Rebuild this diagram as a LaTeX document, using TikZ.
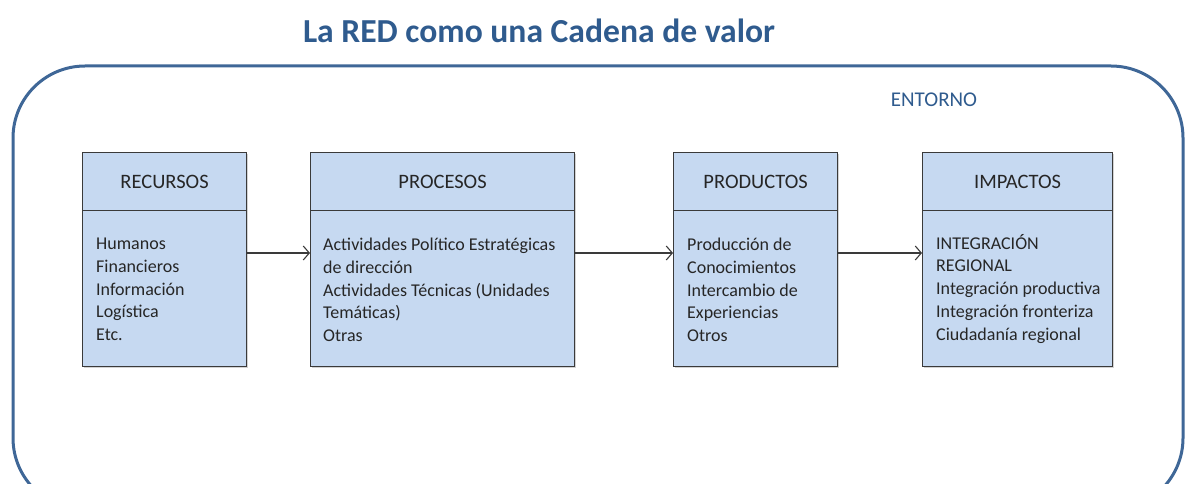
\documentclass[tikz,border=0pt]{standalone}
\usepackage{fontspec}
\setmainfont{Carlito}
\usetikzlibrary{arrows.meta,calc,shadows}
\definecolor{boxfill}{HTML}{C6D9F1}
\definecolor{boxline}{HTML}{3A3A3A}
\definecolor{titleblue}{HTML}{2F5B8E}
\definecolor{frameblue}{HTML}{3F6797}
\definecolor{txt}{HTML}{262626}
\begin{document}
\begin{tikzpicture}[x=1pt,y=-1pt,
  hdr/.style={draw=boxline,line width=1.2pt,fill=boxfill,rectangle,minimum height=58pt,inner sep=0pt,
    anchor=north west,font=\fontsize{20.5}{24}\selectfont,text=txt,
    drop shadow={shadow xshift=1.5pt,shadow yshift=-1.5pt,opacity=0.35}},
  bdy/.style={draw=boxline,line width=1.2pt,fill=boxfill,rectangle,minimum height=156pt,inner sep=0pt,
    anchor=north west,
    drop shadow={shadow xshift=1.5pt,shadow yshift=-1.5pt,opacity=0.35}},
  lst/.style={anchor=north west,align=left,inner sep=0pt,text=txt,
    font=\fontsize{18}{22.7}\selectfont},
  conn/.style={draw=boxline,line width=1.1pt,-{Straight Barb[length=6pt,width=14pt,line width=1.1pt]}}
]
\useasboundingbox (0,0) rectangle (1185,484);
\clip (0,0) rectangle (1185,484);
\node[text=titleblue,font=\fontsize{33.6}{40}\selectfont\bfseries] (title) at (539,31) {La RED como una Cadena de valor};
\draw[frameblue,line width=3pt,rounded corners=72pt] (13,66) rectangle (1183,510);
\node[text=titleblue,font=\fontsize{21}{24}\selectfont] (ent) at (934,100) {ENTORNO};

% boxes
\node[hdr,minimum width=164pt] (recH) at (82,152) {RECURSOS};
\node[bdy,minimum width=164pt] (recB) at (82,210) {};
\node[hdr,minimum width=264pt] (proH) at (310,152) {PROCESOS};
\node[bdy,minimum width=264pt] (proB) at (310,210) {};
\node[hdr,minimum width=164pt] (prdH) at (673,152) {PRODUCTOS};
\node[bdy,minimum width=164pt] (prdB) at (673,210) {};
\node[hdr,minimum width=190pt] (impH) at (922,152) {IMPACTOS};
\node[bdy,minimum width=190pt] (impB) at (922,210) {};

\node[lst] (recT) at (96,238) {Humanos\\Financieros\\Información\\Logística\\Etc.};
\node[lst] (proT) at (323,238) {Actividades Político Estratégicas\\de dirección\\Actividades Técnicas (Unidades\\Temáticas)\\Otras};
\node[lst] (prdT) at (687,238) {Producción de\\Conocimientos\\Intercambio de\\Experiencias\\Otros};
\node[lst] (impT) at (936,234) {INTEGRACIÓN\\REGIONAL\\Integración productiva\\Integración fronteriza\\Ciudadanía regional};

\coordinate (ay) at (0,253);
\draw[conn] (recB.east |- ay) -- (proB.west |- ay);
\draw[conn] (proB.east |- ay) -- (prdB.west |- ay);
\draw[conn] (prdB.east |- ay) -- (impB.west |- ay);
\end{tikzpicture}
\end{document}
